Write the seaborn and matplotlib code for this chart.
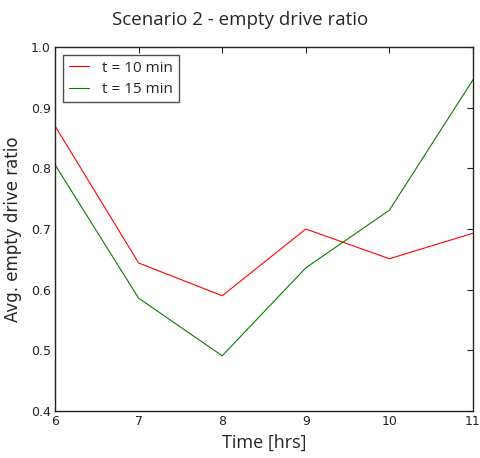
import matplotlib
matplotlib.use("Agg")
import matplotlib.pyplot as plt
import seaborn as sns
import pandas as pd

hours = [6, 7, 8, 9, 10, 11]
ratio_10min = [0.870, 0.644, 0.590, 0.700, 0.651, 0.693]
ratio_15min = [0.806, 0.586, 0.491, 0.636, 0.731, 0.946]
series_labels = ["t = 10 min", "t = 15 min"]
yticks = [0.4, 0.5, 0.6, 0.7, 0.8, 0.9, 1.0]

df = pd.DataFrame({
    "hour": hours * 2,
    "ratio": ratio_10min + ratio_15min,
    "series": [series_labels[0]] * len(hours) + [series_labels[1]] * len(hours),
})

sns.set_style("white")
plt.rcParams["font.family"] = ["DejaVu Sans"]

fig = plt.figure(figsize=(4.8, 4.58), dpi=100)
ax = fig.add_axes([55 / 480, 1 - 411 / 458, (473 - 55) / 480, (411 - 47) / 458])

sns.lineplot(data=df, x="hour", y="ratio", hue="series",
             palette=["#ff0000", "#008000"], linewidth=0.8, ax=ax)

ax.set_xlim(6, 11)
ax.set_ylim(0.4, 1.0)
ax.set_xticks(hours)
ax.set_yticks(yticks)
ax.set_yticklabels([f"{v:.1f}" for v in yticks])
ax.tick_params(direction="in", top=True, right=True, length=4, width=0.8,
               labelsize=9, colors="#222222", pad=3)
for s in ax.spines.values():
    s.set_visible(True)
    s.set_color("#222222")
    s.set_linewidth(1.0)

ax.set_xlabel("Time [hrs]", fontsize=13, family=["Open Sans", "DejaVu Sans"], labelpad=4)
ax.set_ylabel("Avg. empty drive ratio", fontsize=12, family=["DejaVu Sans"], labelpad=6)
fig.suptitle("Scenario 2 - empty drive ratio", fontsize=13.5,
             family=["Open Sans", "DejaVu Sans"], y=0.975)

leg = ax.legend(loc="upper left", frameon=True, fancybox=False,
                prop={"family": ["Open Sans", "DejaVu Sans"], "size": 11},
                handlelength=1.3, handletextpad=0.9, borderpad=0.35,
                labelspacing=0.4, borderaxespad=0.55)
leg.get_frame().set_edgecolor("#222222")
leg.get_frame().set_linewidth(1.0)
leg.set_title(None)

fig.savefig("out.png", dpi=100)
